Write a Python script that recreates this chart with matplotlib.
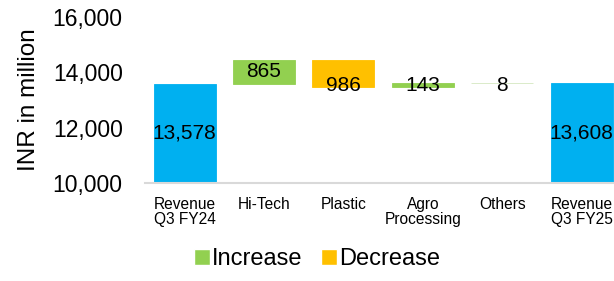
import numpy as np
import matplotlib
matplotlib.use("Agg")
import matplotlib.pyplot as plt
from matplotlib.lines import Line2D

plt.rcParams['font.family'] = ['Liberation Sans', 'DejaVu Sans']

# данные
categories = ["Revenue\nQ3 FY24", "Hi-Tech", "Plastic", "Agro\nProcessing", "Others", "Revenue\nQ3 FY25"]
changes = [13578, 865, -986, 143, 8, 13608]
kinds = ["total", "step", "step", "step", "step", "total"]
labels = ["13,578", "865", "986", "143", "8", "13,608"]

c_total = "#00B0F0"
c_inc = "#92D050"
c_dec = "#FFC000"

fig = plt.figure(figsize=(6.14, 2.81), dpi=100)
ax = fig.add_axes([0.236, 0.349, 0.776, 0.591])

x = np.arange(len(categories))
level = 0
for i, (v, k) in enumerate(zip(changes, kinds)):
    if k == "total":
        bottom, h, col = 0, v, c_total
        level = v
        ty = 10000 + (v - 10000) / 2
    else:
        bottom = level if v >= 0 else level + v
        h = abs(v)
        col = c_inc if v >= 0 else c_dec
        level += v
        ty = bottom + h / 2 if v >= 0 else bottom + 60
        if h < 50:
            ty = bottom - 70
    ec = "#D5E8C0" if h < 50 else col
    ax.bar(x[i], h, bottom=bottom, width=0.78, color=col, edgecolor=ec, linewidth=0.6, zorder=2)
    ax.text(x[i], ty, labels[i], ha="center", va="center", fontsize=15, color="black", zorder=3)

ax.set_ylim(10000, 16000)
ax.set_yticks(np.arange(10000, 16001, 2000))
ax.yaxis.set_major_formatter(matplotlib.ticker.FuncFormatter(lambda v, p: f"{int(v):,}"))
ax.set_xlim(-0.5, 5.5)
ax.set_xticks(x)
ax.set_xticklabels(categories, fontsize=11.2, linespacing=1.0)
ax.tick_params(axis="both", length=0)
ax.tick_params(axis="y", labelsize=16.5, pad=16)
ax.tick_params(axis="x", pad=10)
ax.set_ylabel("INR in million", fontsize=17.5, labelpad=9)

for s in ["top", "right", "left"]:
    ax.spines[s].set_visible(False)
ax.spines["bottom"].set_color("#D9D9D9")
ax.spines["bottom"].set_linewidth(1.5)

handles = [Line2D([], [], marker="s", color="w", markerfacecolor=c_inc, markersize=11, linestyle="none"),
           Line2D([], [], marker="s", color="w", markerfacecolor=c_dec, markersize=11, linestyle="none")]
fig.legend(handles, ["Increase", "Decrease"], loc="center", bbox_to_anchor=(0.517, 0.078), ncol=2,
           frameon=False, fontsize=17, handlelength=0.6, handletextpad=0.15, columnspacing=0.8)

fig.savefig("out.png", dpi=100)
